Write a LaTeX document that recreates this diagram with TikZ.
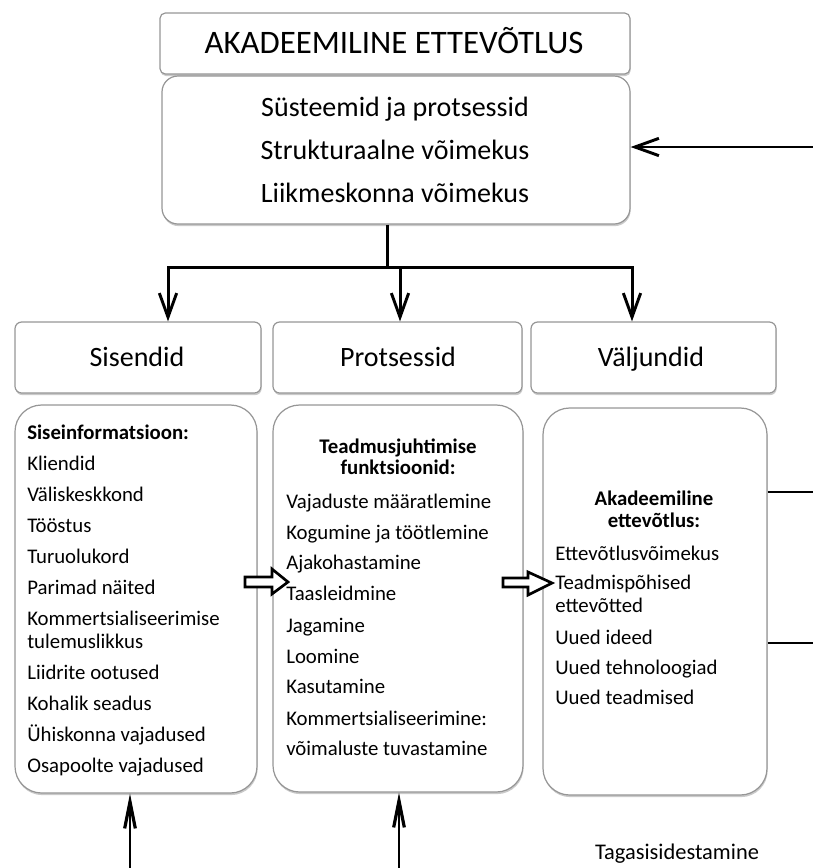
\documentclass[tikz,border=0pt]{standalone}
\usepackage{fontspec}
\setmainfont{Carlito}
\usetikzlibrary{arrows.meta,fit,shadows,calc}
\definecolor{bordc}{RGB}{150,150,150}
\tikzset{
  tkhead/.tip={Straight Barb[length=18pt,width=13pt,line width=2.2pt]},
  thinhead/.tip={Straight Barb[length=20pt,width=8pt,line width=2.4pt]}
}
\begin{document}
\begin{tikzpicture}[x=0.75pt,y=-0.75pt,
  box/.style={draw=bordc, line width=0.9pt, fill=white, inner sep=0pt,
    drop shadow={shadow xshift=0.5pt, shadow yshift=-1.6pt, opacity=0.35, fill=black!60}},
  lst/.style={anchor=west, inner sep=0pt, text height=10.5pt, text depth=0pt,
    font=\fontsize{15.6}{18}\selectfont},
  lstb/.style={lst, font=\fontsize{15.6}{18}\selectfont\bfseries},
  ctrb/.style={anchor=center, inner sep=0pt, text height=10.5pt, text depth=0pt,
    font=\fontsize{15.6}{18}\selectfont\bfseries},
  big/.style={anchor=center, inner sep=0pt, text height=14.2pt, text depth=0pt,
    font=\fontsize{21}{25}\selectfont},
  tk/.style={line width=2.25pt, line join=miter},
  blockarr/.style={draw=black, fill=white, line width=2pt, line join=miter}
]
\useasboundingbox (0,0) rectangle (813,868);

% boxes
\node[box, rounded corners=4pt, fit={(160,13)(630,74)}] (title) {};
\node[box, rounded corners=12pt, fit={(162,76)(630,224)}] (sys) {};
\node[box, rounded corners=5pt, fit={(15,322)(261,393)}] (hin) {};
\node[box, rounded corners=5pt, fit={(273,322)(522,393)}] (hpr) {};
\node[box, rounded corners=5pt, fit={(531,322)(776,393)}] (hout) {};
\node[box, rounded corners=20pt, fit={(15,405)(257,793)}] (bin) {};
\node[box, rounded corners=20pt, fit={(273,405)(523,792)}] (bpr) {};
\node[box, rounded corners=20pt, fit={(543,408)(767,795)}] (bout) {};

% title texts
\node[anchor=center, inner sep=0pt, text height=16.6pt, text depth=0pt,
  font=\fontsize{24.6}{29}\selectfont] (ttl) at (394,42) {AKADEEMILINE ETTEVÕTLUS};
\node[big] (s1) at (395,107) {Süsteemid ja protsessid};
\node[big] (s2) at (395,150) {Strukturaalne võimekus};
\node[big] (s3) at (395,193) {Liikmeskonna võimekus};

\node[big] (h1) at (137,357) {Sisendid};
\node[big] (h2) at (398,357) {Protsessid};
\node[big] (h3) at (651,357) {Väljundid};

% left box
\node[lstb] (a0) at (27,432) {Siseinformatsioon:};
\node[lst] (a1) at (27,463) {Kliendid};
\node[lst] (a2) at (27,494) {Väliskeskkond};
\node[lst] (a3) at (27,525) {Tööstus};
\node[lst] (a4) at (27,556) {Turuolukord};
\node[lst] (a5) at (27,587) {Parimad näited};
\node[lst] (a6) at (27,618) {Kommertsialiseerimise};
\node[lst] (a7) at (27,641) {tulemuslikkus};
\node[lst] (a8) at (27,672) {Liidrite ootused};
\node[lst] (a9) at (27,703) {Kohalik seadus};
\node[lst] (a10) at (27,734) {Ühiskonna vajadused};
\node[lst] (a11) at (27,765) {Osapoolte vajadused};

% middle box
\node[ctrb] (b0) at (398,446) {Teadmusjuhtimise};
\node[ctrb] (b00) at (398,467) {funktsioonid:};
\node[lst] (b1) at (286,501) {Vajaduste määratlemine};
\node[lst] (b2) at (286,532) {Kogumine ja töötlemine};
\node[lst] (b3) at (286,562) {Ajakohastamine};
\node[lst] (b4) at (286,593) {Taasleidmine};
\node[lst] (b5) at (286,625) {Jagamine};
\node[lst] (b6) at (286,656) {Loomine};
\node[lst] (b7) at (286,686) {Kasutamine};
\node[lst] (b8) at (286,718) {Kommertsialiseerimine:};
\node[lst] (b9) at (286,748) {võimaluste tuvastamine};

% right box
\node[ctrb] (c0) at (654,498) {Akadeemiline};
\node[ctrb] (c00) at (654,520) {ettevõtlus:};
\node[lst] (c1) at (555,553) {Ettevõtlusvõimekus};
\node[lst] (c2) at (555,582) {Teadmispõhised};
\node[lst] (c3) at (555,605) {ettevõtted};
\node[lst] (c4) at (555,637) {Uued ideed};
\node[lst] (c5) at (555,667) {Uued tehnoloogiad};
\node[lst] (c6) at (555,697) {Uued teadmised};

\node[anchor=center, inner sep=0pt, text height=11.4pt, text depth=0pt,
  font=\fontsize{16.8}{20}\selectfont] (fb) at (677,852) {Tagasisidestamine};

% tree connectors
\coordinate (jn) at (387,267);
\coordinate (j1) at (168,267);
\coordinate (j2) at (400,267);
\coordinate (j3) at (632,267);
\draw[tk] (jn |- sys.south) -- (jn);
\draw[tk, tkhead-tkhead] (j1 |- hin.north) -- (j1) -- (j3) -- (j3 |- hout.north);
\draw[tk, -tkhead] (j2) -- (j2 |- hpr.north);

% feedback arrow into sys
\coordinate (fr) at (813,147);
\draw[line width=0.8pt, -tkhead] (fr) -- (fr -| sys.east);

% right side lines
\coordinate (r1) at (813,492);
\coordinate (r2) at (813,643);
\draw[line width=0.8pt] (r1 -| bout.east) -- (r1);
\draw[line width=0.8pt] (r2 -| bout.east) -- (r2);

% bottom arrows
\coordinate (f1) at (130,868);
\coordinate (f2) at (399,868);
\draw[line width=0.8pt, -thinhead] (f1) -- (f1 |- bin.south);
\draw[line width=0.8pt, -thinhead] (f2) -- (f2 |- bpr.south);

% block arrows
\draw[blockarr] (245,577) -- (272,577) -- (272,569) -- (288,582) -- (272,594) -- (272,587) -- (245,587) -- cycle;
\draw[blockarr] (503,578) -- (528,578) -- (528,572) -- (552,583) -- (528,595) -- (528,587) -- (503,587) -- cycle;
\end{tikzpicture}
\end{document}
